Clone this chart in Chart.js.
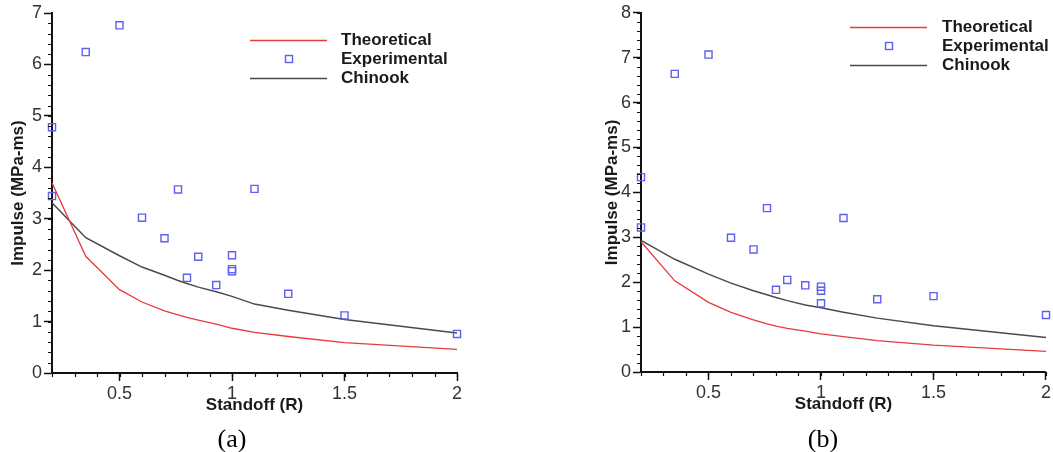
<!DOCTYPE html>
<html>
<head>
<meta charset="utf-8">
<script src="https://cdn.jsdelivr.net/npm/chart.js@4.4.1/dist/chart.umd.min.js"></script>
<style>
    body { margin: 0; background: #fff; width: 1053px; height: 452px; position: relative; overflow: hidden; }
    canvas { position: absolute; top: 0; }
    #chartA { left: 0; }
    #chartB { left: 580px; }
    .caption {
        position: absolute; top: 424px; width: 80px; text-align: center;
        font-family: "Liberation Serif", "Times New Roman", serif; font-size: 26px; color: #000;
    }
</style>
</head>
<body>
<canvas id="chartA" width="500" height="452"></canvas>
<canvas id="chartB" width="473" height="452"></canvas>
<div class="caption" style="left:192px">(a)</div>
<div class="caption" style="left:783px">(b)</div>
<script>
// Standoff values used by the two curves
const standoff = [0.2, 0.35, 0.5, 0.6, 0.7, 0.76, 0.8, 0.85, 0.93, 1.0, 1.1, 1.25, 1.5, 2.0];
const theoreticalA = [3.70, 2.27, 1.62, 1.38, 1.21, 1.13, 1.08, 1.03, 0.95, 0.87, 0.79, 0.71, 0.59, 0.46];
const chinookA = [3.31, 2.63, 2.28, 2.06, 1.90, 1.80, 1.74, 1.67, 1.58, 1.49, 1.34, 1.22, 1.04, 0.78];
const theoreticalB = [2.90, 2.03, 1.55, 1.33, 1.16, 1.07, 1.02, 0.97, 0.91, 0.85, 0.79, 0.70, 0.60, 0.46];
const chinookB = [2.93, 2.51, 2.18, 1.98, 1.81, 1.72, 1.66, 1.59, 1.49, 1.43, 1.33, 1.20, 1.03, 0.77];

// Experimental points
const expStandoff = [0.2, 0.2, 0.35, 0.5, 0.6, 0.7, 0.76, 0.8, 0.85, 0.93, 1.0, 1.0, 1.0, 1.1, 1.25, 1.5, 2.0];
const experimentalA = [4.78, 3.44, 6.24, 6.76, 3.02, 2.62, 3.57, 1.85, 2.26, 1.71, 2.29, 2.02, 1.98, 3.58, 1.54, 1.12, 0.76];
const experimentalB = [4.34, 3.22, 6.64, 7.07, 2.99, 2.73, 3.65, 1.83, 2.05, 1.93, 1.90, 1.81, 1.53, 3.43, 1.62, 1.69, 1.27];

// Tick labels
const xTickValues = [0.5, 1, 1.5, 2];
const yTickValuesA = [0, 1, 2, 3, 4, 5, 6, 7];
const yTickValuesB = [0, 1, 2, 3, 4, 5, 6, 7, 8];

const FONT = '"Liberation Sans", Arial, Helvetica, sans-serif';

function pairs(xs, ys) {
    return xs.map((x, i) => ({ x: x, y: ys[i] }));
}

// minor ticks, drawn through the chart's own scales
const minorTicks = {
    id: 'minorTicks',
    afterDraw(chart, args, opts) {
        const ctx = chart.ctx;
        const x = chart.scales.x;
        const y = chart.scales.y;
        ctx.save();
        ctx.strokeStyle = '#111';
        ctx.lineWidth = 1.2;
        ctx.beginPath();
        const nx = Math.round((x.max - x.min) / opts.xStep);
        for (let i = 0; i <= nx; i++) {
            const px = Math.round(x.getPixelForValue(x.min + i * opts.xStep)) + 0.5;
            ctx.moveTo(px, x.top);
            ctx.lineTo(px, x.top + opts.len);
        }
        const ny = Math.round((y.max - y.min) / opts.yStep);
        for (let i = 0; i <= ny; i++) {
            const py = Math.round(y.getPixelForValue(y.min + i * opts.yStep)) + 0.5;
            ctx.moveTo(y.right, py);
            ctx.lineTo(y.right - opts.len, py);
        }
        ctx.stroke();
        ctx.restore();
    }
};

// legend in the style of the original plot
const boxLegend = {
    id: 'boxLegend',
    afterDraw(chart, args, opts) {
        const ctx = chart.ctx;
        ctx.save();
        ctx.font = 'bold 17px ' + FONT;
        ctx.fillStyle = '#1a1a1a';
        ctx.textBaseline = 'middle';
        chart.data.datasets.forEach((ds, i) => {
            const yy = opts.y + i * opts.gap;
            if (ds.showLine) {
                ctx.strokeStyle = ds.borderColor;
                ctx.lineWidth = ds.borderWidth;
                ctx.beginPath();
                ctx.moveTo(opts.x, yy + 0.5);
                ctx.lineTo(opts.x + opts.len, yy + 0.5);
                ctx.stroke();
            } else {
                ctx.strokeStyle = ds.borderColor;
                ctx.lineWidth = ds.borderWidth;
                const cx = Math.round(opts.x + opts.len / 2);
                ctx.strokeRect(cx - 3.5, Math.round(yy) - 3.5, 7, 7);
            }
            ctx.fillText(ds.label, opts.textX, yy);
        });
        ctx.restore();
    }
};

function makeChart(id, theo, exp, chin, yTicks, cfg) {
    const ctx = document.getElementById(id).getContext('2d');
    return new Chart(ctx, {
        type: 'scatter',
        data: {
            datasets: [
                {
                    label: 'Theoretical',
                    data: pairs(standoff, theo),
                    showLine: true,
                    borderColor: '#e8393c',
                    borderWidth: 1.3,
                    pointRadius: 0,
                    tension: 0,
                    clip: false
                },
                {
                    label: 'Experimental',
                    data: pairs(expStandoff, exp),
                    showLine: false,
                    pointStyle: 'rect',
                    pointRadius: 5,
                    borderColor: '#5f5ff2',
                    backgroundColor: 'rgba(0,0,0,0)',
                    borderWidth: 1.4,
                    clip: false
                },
                {
                    label: 'Chinook',
                    data: pairs(standoff, chin),
                    showLine: true,
                    borderColor: '#4a4a4a',
                    borderWidth: 1.5,
                    pointRadius: 0,
                    tension: 0,
                    clip: false
                }
            ]
        },
        options: {
            responsive: false,
            animation: false,
            layout: { padding: cfg.padding },
            plugins: {
                legend: { display: false },
                tooltip: { enabled: false },
                minorTicks: { xStep: 0.1, yStep: 0.2, len: 4 },
                boxLegend: cfg.legend
            },
            scales: {
                x: {
                    type: 'linear',
                    min: 0.2,
                    max: 2,
                    afterBuildTicks: s => { s.ticks = xTickValues.map(v => ({ value: v })); },
                    afterFit: s => { s.height = 45; },
                    ticks: {
                        callback: v => String(v),
                        autoSkip: false,
                        maxRotation: 0,
                        padding: 2,
                        color: '#333',
                        font: { family: FONT, size: 18 }
                    },
                    grid: { drawOnChartArea: false, drawTicks: true, tickLength: 8, tickColor: '#111', tickWidth: 1.5 },
                    border: { color: '#111', width: 2 },
                    title: {
                        display: true,
                        text: 'Standoff (R)',
                        color: '#1a1a1a',
                        padding: { top: 0, bottom: 2 },
                        font: { family: FONT, size: 17, weight: 'bold' }
                    }
                },
                y: {
                    min: 0,
                    max: yTicks[yTicks.length - 1],
                    afterBuildTicks: s => { s.ticks = yTicks.map(v => ({ value: v })); },
                    afterFit: s => { s.width = cfg.yWidth; },
                    ticks: {
                        callback: v => String(v),
                        padding: 2,
                        color: '#333',
                        font: { family: FONT, size: 18 }
                    },
                    grid: { drawOnChartArea: false, drawTicks: true, tickLength: 8, tickColor: '#111', tickWidth: 1.5 },
                    border: { color: '#111', width: 2 },
                    title: {
                        display: true,
                        text: 'Impulse (MPa-ms)',
                        color: '#1a1a1a',
                        padding: { top: cfg.yTitlePad, bottom: 0 },
                        font: { family: FONT, size: 17, weight: 'bold' }
                    }
                }
            }
        },
        plugins: [minorTicks, boxLegend]
    });
}

document.addEventListener('DOMContentLoaded', function() {
    makeChart('chartA', theoreticalA, experimentalA, chinookA, yTickValuesA, {
        padding: { left: 0, top: 13, right: 43, bottom: 34 },
        yWidth: 52,
        yTitlePad: 8,
        legend: { x: 250, y: 40, gap: 19, len: 77, textX: 341 }
    });
    makeChart('chartB', theoreticalB, experimentalB, chinookB, yTickValuesB, {
        padding: { left: 0, top: 10, right: 5, bottom: 35 },
        yWidth: 61,
        yTitlePad: 22,
        legend: { x: 270, y: 27, gap: 19, len: 77, textX: 362 }
    });
});
</script>
</body>
</html>
